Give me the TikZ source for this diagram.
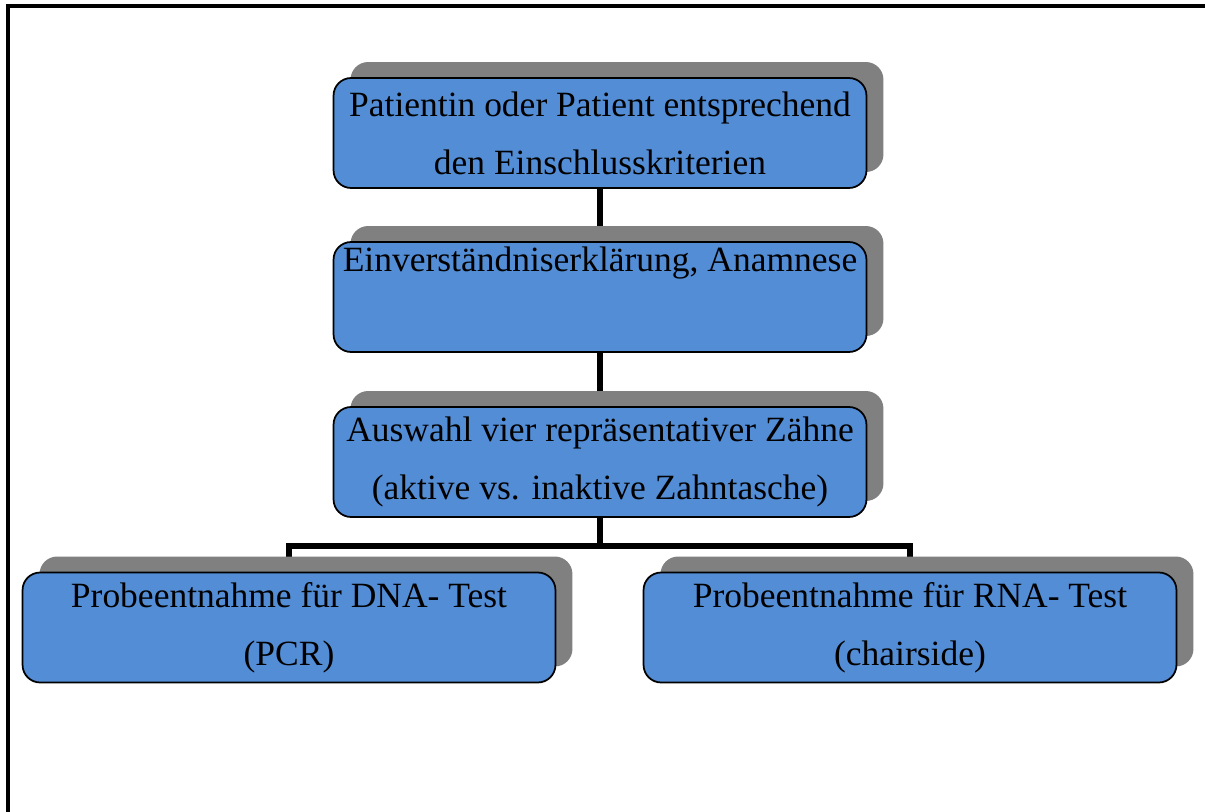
\documentclass[tikz,border=0pt]{standalone}
\usepackage{fontspec}
\setmainfont{Liberation Serif}
\usepackage{tikz}
\usetikzlibrary{shadows, backgrounds}
\definecolor{boxblue}{RGB}{83,141,213}
\definecolor{shadowgray}{RGB}{128,128,128}
\tikzset{
  stepbox/.style={rectangle, rounded corners=10pt, draw, line width=1pt, fill=boxblue,
    minimum width=10.66cm, minimum height=2.2cm, inner sep=0pt, align=center,
    font=\fontsize{20.2}{33}\selectfont,
    drop shadow={shadow xshift=0.34cm, shadow yshift=0.32cm, fill=shadowgray, opacity=1}},
  link/.style={line width=3.2pt}
}

\begin{document}
\begin{tikzpicture}[x=0.02cm, y=-0.02cm]
  \useasboundingbox (0,0) rectangle (1205,812);
  \draw[line width=1.8pt] (1205,6) -| (8,812);

  \node[stepbox] (pat) at (600,133) {Patientin oder Patient entsprechend\\den Einschlusskriterien};
  \node[stepbox] (einv) at (600,297) {Einverständniserklärung, Anamnese\\\strut};
  \node[stepbox] (ausw) at (600,462) {Auswahl vier repräsentativer Zähne\\(aktive vs. inaktive Zahntasche)};
  \node[stepbox] (dna) at (289,627.5) {Probeentnahme für DNA- Test\\(PCR)};
  \node[stepbox] (rna) at (910,627.5) {Probeentnahme für RNA- Test\\(chairside)};
  \coordinate (fork) at (600,546);

  \begin{scope}[on background layer]
  \draw[link] (pat)--(einv)--(ausw)--(fork);
  \draw[link] (dna.north)|-(fork)-|(rna.north);
  \end{scope}
\end{tikzpicture}
\end{document}
